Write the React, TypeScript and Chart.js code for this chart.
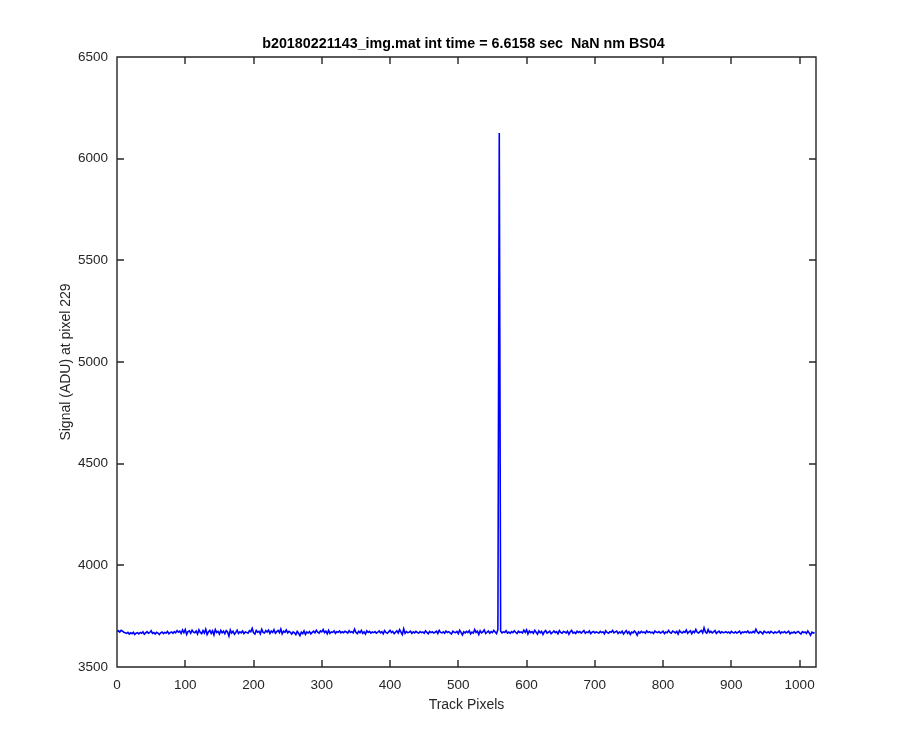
import React, { useEffect, useRef } from "react";
import { Chart, registerables } from "chart.js";

Chart.register(...registerables);

const chartTitle = "b20180221143_img.mat int time = 6.6158 sec  NaN nm BS04";
const xLabel = "Track Pixels";
const yLabel = "Signal (ADU) at pixel 229";
const xTicks = [0, 100, 200, 300, 400, 500, 600, 700, 800, 900, 1000];
const yTicks = [3500, 4000, 4500, 5000, 5500, 6000, 6500];
const xRange = [0, 1024];
const yRange = [3500, 6500];
const pixelStep = 2;
// signal sampled every 2 track pixels, starting at pixel 0
const signal = [
  3675,3678,3672,3680,3676,3671,3668,3665,3670,3662,3668,3664,3671,3660,3666,3669,
  3663,3670,3666,3673,3661,3668,3674,3666,3670,3678,3665,3669,3662,3671,3667,3660,
  3668,3672,3664,3670,3667,3675,3663,3669,3672,3666,3674,3668,3679,3671,3676,3665,
  3682,3669,3684,3660,3674,3678,3666,3681,3671,3668,3677,3662,3683,3670,3664,3679,
  3667,3686,3660,3673,3680,3665,3678,3658,3684,3670,3675,3662,3680,3668,3676,3664,
  3679,3672,3652,3682,3667,3676,3661,3670,3681,3665,3673,3668,3677,3664,3672,3670,
  3666,3678,3673,3690,3668,3662,3680,3671,3675,3663,3685,3670,3667,3679,3672,3681,
  3665,3677,3670,3683,3666,3674,3680,3669,3687,3663,3676,3671,3682,3668,3675,3670,
  3662,3673,3668,3659,3675,3666,3654,3671,3664,3677,3660,3672,3667,3674,3663,3670,
  3676,3668,3681,3671,3667,3678,3673,3684,3669,3676,3663,3680,3665,3672,3670,3678,
  3666,3674,3671,3677,3668,3673,3669,3676,3672,3667,3679,3670,3674,3668,3686,3671,
  3664,3676,3669,3680,3666,3673,3662,3678,3670,3675,3667,3672,3669,3674,3666,3671,
  3677,3668,3674,3663,3679,3670,3666,3673,3680,3669,3675,3664,3671,3678,3667,3684,
  3672,3660,3688,3666,3674,3669,3671,3676,3665,3673,3668,3675,3670,3667,3674,3669,
  3672,3666,3678,3670,3664,3675,3669,3673,3667,3671,3676,3665,3680,3670,3668,3673,
  3666,3677,3670,3674,3668,3662,3676,3671,3669,3675,3664,3681,3670,3658,3673,3668,
  3675,3669,3679,3663,3672,3667,3684,3670,3676,3660,3678,3668,3673,3682,3665,3671,
  3677,3666,3674,3669,3680,3672,3664,3685,6126,3676,3668,3673,3670,3679,3667,3672,
  3666,3674,3669,3678,3671,3665,3676,3670,3673,3667,3681,3670,3683,3662,3677,3669,
  3674,3666,3680,3671,3662,3678,3668,3675,3660,3673,3679,3667,3671,3676,3664,3670,
  3677,3669,3674,3663,3679,3670,3666,3675,3672,3668,3676,3661,3673,3680,3667,3671,
  3665,3676,3670,3674,3667,3673,3679,3666,3672,3669,3677,3664,3671,3675,3668,3673,
  3670,3667,3675,3669,3673,3663,3678,3670,3666,3674,3671,3680,3668,3673,3677,3665,
  3672,3668,3676,3662,3671,3679,3666,3674,3660,3672,3668,3677,3670,3656,3673,3667,
  3675,3669,3672,3666,3678,3670,3674,3668,3671,3665,3677,3672,3669,3674,3667,3671,
  3676,3664,3672,3669,3680,3670,3666,3677,3673,3668,3675,3662,3679,3671,3667,3674,
  3670,3682,3666,3673,3678,3664,3676,3669,3685,3671,3667,3674,3680,3668,3693,3672,
  3666,3684,3670,3675,3668,3673,3679,3665,3671,3676,3667,3673,3669,3670,3674,3668,
  3672,3666,3675,3670,3668,3673,3667,3671,3676,3664,3672,3669,3674,3670,3677,3667,
  3671,3668,3675,3669,3686,3672,3666,3674,3670,3663,3676,3671,3668,3673,3667,3675,
  3670,3666,3673,3668,3671,3677,3665,3672,3669,3674,3667,3671,3676,3663,3670,3668,
  3673,3666,3671,3675,3668,3662,3674,3669,3672,3665,3677,3668,3656,3671,3667,3670,
];

const FONT = "Liberation Sans, Arial, Helvetica, sans-serif";
const AXIS_COLOR = "#262626";

const framePlugin = {
  id: "matlabFrame",
  afterDraw(chart: any) {
    const { ctx, chartArea } = chart;
    const { left, right, top, bottom } = chartArea;
    const xs = chart.scales.x;
    const ys = chart.scales.y;
    const tl = 7;
    ctx.save();
    ctx.strokeStyle = AXIS_COLOR;
    ctx.lineWidth = 1.4;
    ctx.beginPath();
    ctx.rect(Math.round(left), Math.round(top), Math.round(right - left), Math.round(bottom - top));
    for (const v of xTicks) {
      const px = Math.round(xs.getPixelForValue(v));
      ctx.moveTo(px, bottom);
      ctx.lineTo(px, bottom - tl);
      ctx.moveTo(px, top);
      ctx.lineTo(px, top + tl);
    }
    for (const v of yTicks) {
      const py = Math.round(ys.getPixelForValue(v));
      ctx.moveTo(left, py);
      ctx.lineTo(left + tl, py);
      ctx.moveTo(right, py);
      ctx.lineTo(right - tl, py);
    }
    ctx.stroke();

    ctx.fillStyle = "#000000";
    ctx.font = `bold 14.3px ${FONT}`;
    ctx.textAlign = "center";
    ctx.textBaseline = "middle";
    ctx.fillText(chartTitle, (left + right) / 2 - 3, 44);

    ctx.fillStyle = AXIS_COLOR;
    ctx.font = `14px ${FONT}`;
    ctx.fillText(xLabel, (left + right) / 2, 705);
    ctx.translate(66, (top + bottom) / 2);
    ctx.rotate(-Math.PI / 2);
    ctx.fillText(yLabel, 0, 0);
    ctx.restore();
  },
};

export default function App() {
  const ref = useRef<HTMLCanvasElement>(null);
  useEffect(() => {
    if (!ref.current) return;
    const chart = new Chart(ref.current, {
      type: "line",
      data: {
        datasets: [
          {
            data: signal.map((v, i) => ({ x: i * pixelStep, y: v })),
            borderColor: "#0000ff",
            borderWidth: 1.6,
            pointRadius: 0,
            tension: 0,
            fill: false,
          },
        ],
      },
      options: {
        animation: false,
        responsive: false,
        devicePixelRatio: 1,
        layout: { padding: { left: 0, right: 84, top: 57, bottom: 0 } },
        plugins: { legend: { display: false }, tooltip: { enabled: false }, title: { display: false } },
        scales: {
          x: {
            type: "linear",
            min: xRange[0],
            max: xRange[1],
            grid: { display: false, drawTicks: false },
            border: { display: false },
            afterBuildTicks: (s: any) => {
              s.ticks = xTicks.map((v) => ({ value: v }));
            },
            afterFit: (s: any) => {
              s.height = 83;
            },
            ticks: {
              color: AXIS_COLOR,
              font: { family: FONT, size: 13.5 },
              padding: 10,
              maxRotation: 0,
              autoSkip: false,
              callback: (v: any) => String(v),
            },
          },
          y: {
            type: "linear",
            min: yRange[0],
            max: yRange[1],
            grid: { display: false, drawTicks: false },
            border: { display: false },
            afterBuildTicks: (s: any) => {
              s.ticks = yTicks.map((v) => ({ value: v }));
            },
            afterFit: (s: any) => {
              s.width = 117;
            },
            ticks: {
              color: AXIS_COLOR,
              font: { family: FONT, size: 13.5 },
              padding: 9,
              autoSkip: false,
              callback: (v: any) => String(v),
            },
          },
        },
      },
      plugins: [framePlugin],
    });
    return () => chart.destroy();
  }, []);
  return (
    <div style={{ position: "fixed", left: 0, top: 0, width: 900, height: 750, background: "#fff" }}>
      <canvas ref={ref} width={900} height={750} />
    </div>
  );
}
